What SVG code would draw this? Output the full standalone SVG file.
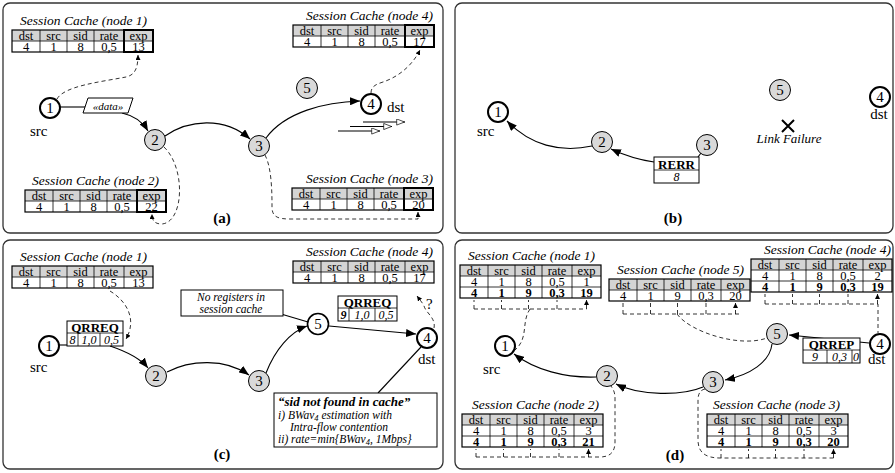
<svg xmlns="http://www.w3.org/2000/svg" xmlns:xlink="http://www.w3.org/1999/xlink" width="895" height="473" viewBox="0 0 895 473" font-family="'Liberation Serif', serif">
<style>
text{font-family:"Liberation Serif",serif;fill:#000}
.bd{fill:none;stroke:#333;stroke-width:1.3}
.ttl{font-style:italic;font-size:13.5px}
.tc{font-size:12.5px;text-anchor:middle}
.b{font-weight:bold}
.hd{fill:#d4d4d4}
.tb{fill:none;stroke:#000;stroke-width:1.2}
.tl{fill:none;stroke:#000;stroke-width:0.8}
.hx{fill:none;stroke:#000;stroke-width:2}
.nw{fill:#fff;stroke:#000;stroke-width:2}
.ng{fill:#d9d9d9;stroke:#000;stroke-width:1}
.nt{font-size:15px;text-anchor:middle}
.lb{font-size:15px}
.pl{font-size:15px;font-weight:bold;text-anchor:middle}
.cn{fill:none;stroke:#000;stroke-width:1.1}
.ds{fill:none;stroke:#000;stroke-width:0.8;stroke-dasharray:4 3}
.box{fill:#fff;stroke:#000;stroke-width:1}
.it{font-style:italic;font-size:12px}
.sm{font-style:italic;font-size:11.5px}
.bi{font-style:italic;font-weight:bold;font-size:13px}
</style>
<defs>
<marker id="ah" viewBox="0 0 10 8" refX="10" refY="4" markerWidth="10" markerHeight="8" markerUnits="userSpaceOnUse" orient="auto"><path d="M0,0 L10,4 L0,8 z"/></marker>
<marker id="sa" viewBox="0 0 6 6" refX="6" refY="3" markerWidth="5" markerHeight="5" markerUnits="userSpaceOnUse" orient="auto"><path d="M0,0 L6,3 L0,6 z"/></marker>
<marker id="oa" viewBox="0 0 10 8" refX="10" refY="4" markerWidth="10" markerHeight="7" markerUnits="userSpaceOnUse" orient="auto"><path d="M0.5,0.5 L9.5,4 L0.5,7.5 z" fill="#fff" stroke="#000" stroke-width="0.8"/></marker>
<g id="hdrrow">
<rect width="141" height="11" class="hd"/>
<text class="tc"><tspan x="14" y="9.5">dst</tspan><tspan x="41.5" y="9.5">src</tspan><tspan x="68.5" y="9.5">sid</tspan><tspan x="97" y="9.5">rate</tspan><tspan x="126.5" y="9.5">exp</tspan></text>
</g>
<g id="t2">
<use xlink:href="#hdrrow"/>
<path class="tl" d="M0,11H141M28,0V22M55,0V22M82,0V22M112,0V22"/>
<rect width="141" height="22" class="tb"/>
</g>
<g id="t3">
<use xlink:href="#hdrrow"/>
<path class="tl" d="M0,11H141M0,22H141M28,0V33M55,0V33M82,0V33M112,0V33"/>
<rect width="141" height="33" class="tb"/>
</g>
</defs>

<!-- panel borders -->
<g id="panels">
<rect x="3" y="3" width="440" height="230" rx="7" class="bd"/>
<rect x="455" y="3" width="438" height="230" rx="7" class="bd"/>
<rect x="3" y="240" width="440" height="229" rx="7" class="bd"/>
<rect x="455" y="240" width="438" height="229" rx="7" class="bd"/>
</g>

<!-- connectors -->
<g id="connectors">
<!-- (a) -->
<path class="cn" d="M60,107 H86"/>
<path class="cn" d="M122,113 Q140,117 148,131" marker-end="url(#ah)"/>
<path class="cn" d="M165,136 C188,120 224,116 250,139" marker-end="url(#ah)"/>
<path class="cn" d="M266,138 C285,112 325,102 360,101" marker-end="url(#ah)"/>
<path class="cn" d="M363,122 H405" marker-end="url(#oa)"/>
<path class="cn" d="M350,126.5 H392" marker-end="url(#oa)"/>
<path class="cn" d="M338,131 H380" marker-end="url(#oa)"/>
<path class="ds" d="M57,99 C64,86 100,82 126,77 C135,75 138,68 138,55" marker-end="url(#sa)"/>
<path class="ds" d="M164,147 C186,168 184,222 162,224 C154,224 152,220 152,214" marker-end="url(#sa)"/>
<path class="ds" d="M265,155 C272,168 272,195 272,207 C272,217 278,219 290,219 L418,219 L418,212" marker-end="url(#sa)"/>
<path class="ds" d="M371,93 C371,86 377,84 383,82 C398,77 412,66 420,50" marker-end="url(#sa)"/>
<!-- (b) -->
<path class="cn" d="M701,153 L698,157"/>
<path class="cn" d="M654,162 C640,160 626,156 611,149" marker-end="url(#ah)"/>
<path class="cn" d="M592,146 C560,153 530,145 507,121" marker-end="url(#ah)"/>
<!-- (c) -->
<path class="cn" d="M59,345 H67"/>
<path class="cn" d="M110,346 C128,352 140,358 148,368" marker-end="url(#ah)"/>
<path class="cn" d="M167,372 C190,360 225,358 249,375" marker-end="url(#ah)"/>
<path class="cn" d="M266,373 C275,350 290,332 307,326" marker-end="url(#ah)"/>
<path class="cn" d="M329,326 L416,334" marker-end="url(#ah)"/>
<path class="cn" d="M281,314 L308,322"/>
<path class="cn" d="M421,347 L378,393"/>
<path class="ds" d="M110,291 C125,300 138,318 126,339" marker-end="url(#sa)"/>
<path class="ds" d="M434,328 C436,318 426,313 424,306 C422,302 420,300 417,296" marker-end="url(#sa)"/>
<!-- (d) -->
<path class="cn" d="M869,343 L789,335" marker-end="url(#ah)"/>
<path class="cn" d="M772,344 C770,362 750,375 725,380" marker-end="url(#ah)"/>
<path class="cn" d="M703,387 C682,396 640,396 616,384" marker-end="url(#ah)"/>
<path class="cn" d="M596,377 C565,378 535,370 514,354" marker-end="url(#ah)"/>
<!-- (d) dashed: node1 cache -->
<path class="ds" d="M474,309 H586.5 M530,309 C521,322 529,338 515,350"/>
<path class="ds" d="M474,309 V300 M501.5,309 V300 M528.5,309 V300 M557,309 V300 M586.5,309 V300" marker-end="url(#sa)"/>
<!-- node5 cache -->
<path class="ds" d="M623,314 H741.5 M677,314 C690,332 740,348 767,338"/>
<path class="ds" d="M623,314 V303 M650.5,314 V303 M677.5,314 V303 M706,314 V303 M735.5,314 V303" marker-end="url(#sa)"/>
<!-- node4 cache -->
<path class="ds" d="M765,304 H878 V333"/>
<path class="ds" d="M765,304 V294 M792.5,304 V294 M819.5,304 V294 M848,304 V294 M877.5,304 V294" marker-end="url(#sa)"/>
<!-- node2 cache -->
<path class="ds" d="M476,457 H600 C610,457 615,452 615,442 V398 C615,392 613,389 611,386"/>
<path class="ds" d="M476,457 V449 M503.5,457 V449 M530.5,457 V449 M559,457 V449 M588.5,457 V449" marker-end="url(#sa)"/>
<!-- node3 cache -->
<path class="ds" d="M833.5,458 H720 C705,458 698,452 698,440 V400 C698,392 702,389 706,389"/>
<path class="ds" d="M721,458 V449 M748.5,458 V449 M775.5,458 V449 M804,458 V449 M833.5,458 V449" marker-end="url(#sa)"/>
</g>

<!-- ===== Panel (a) ===== -->
<g id="a-cache1" transform="translate(12,30)">
<text class="ttl" x="8" y="-5">Session Cache (node 1)</text>
<use xlink:href="#t2"/>
<text class="tc"><tspan x="14" y="20.5">4</tspan><tspan x="41.5" y="20.5">1</tspan><tspan x="68.5" y="20.5">8</tspan><tspan x="97" y="20.5">0,5</tspan><tspan x="126.5" y="20.5">13</tspan></text>
<rect x="112" y="0" width="29" height="22" class="hx"/>
</g>
<g id="a-cache4" transform="translate(293,25)">
<text class="ttl" x="140" y="-5" text-anchor="end">Session Cache (node 4)</text>
<use xlink:href="#t2"/>
<text class="tc"><tspan x="14" y="20.5">4</tspan><tspan x="41.5" y="20.5">1</tspan><tspan x="68.5" y="20.5">8</tspan><tspan x="97" y="20.5">0,5</tspan><tspan x="126.5" y="20.5">17</tspan></text>
<rect x="112" y="0" width="29" height="22" class="hx"/>
</g>
<g id="a-cache2" transform="translate(25,190)">
<text class="ttl" x="7" y="-5">Session Cache (node 2)</text>
<use xlink:href="#t2"/>
<text class="tc"><tspan x="14" y="20.5">4</tspan><tspan x="41.5" y="20.5">1</tspan><tspan x="68.5" y="20.5">8</tspan><tspan x="97" y="20.5">0,5</tspan><tspan x="126.5" y="20.5">22</tspan></text>
<rect x="112" y="0" width="29" height="22" class="hx"/>
</g>
<g id="a-cache3" transform="translate(292,188)">
<text class="ttl" x="141" y="-5" text-anchor="end">Session Cache (node 3)</text>
<use xlink:href="#t2"/>
<text class="tc"><tspan x="14" y="20.5">4</tspan><tspan x="41.5" y="20.5">1</tspan><tspan x="68.5" y="20.5">8</tspan><tspan x="97" y="20.5">0,5</tspan><tspan x="126.5" y="20.5">20</tspan></text>
<rect x="112" y="0" width="29" height="22" class="hx"/>
</g>
<g id="a-data">
<polygon points="88,98 133,98 128,113 83,113" class="box"/>
<text x="108" y="109.5" font-size="11" font-style="italic" text-anchor="middle">«data»</text>
</g>
<g id="a-n1"><circle cx="50" cy="108" r="10" class="nw"/><text class="nt" x="50" y="113">1</text><text class="lb" x="30" y="136">src</text></g>
<g id="a-n2"><circle cx="155" cy="140" r="10.5" class="ng"/><text class="nt" x="155" y="145">2</text></g>
<g id="a-n3"><circle cx="259" cy="146" r="10.5" class="ng"/><text class="nt" x="259" y="151">3</text></g>
<g id="a-n5"><circle cx="307" cy="88" r="10.5" class="ng"/><text class="nt" x="307" y="93">5</text></g>
<g id="a-n4"><circle cx="371" cy="104" r="10" class="nw"/><text class="nt" x="371" y="109">4</text><text class="lb" x="387" y="112">dst</text></g>
<text class="pl" x="222" y="223">(a)</text>

<!-- ===== Panel (b) ===== -->
<g id="b-n1"><circle cx="498" cy="112" r="10" class="nw"/><text class="nt" x="498" y="117">1</text><text class="lb" x="477" y="136">src</text></g>
<g id="b-n2"><circle cx="602" cy="142" r="10.5" class="ng"/><text class="nt" x="602" y="147">2</text></g>
<g id="b-n3"><circle cx="707" cy="145" r="10.5" class="ng"/><text class="nt" x="707" y="150">3</text></g>
<g id="b-n5"><circle cx="780" cy="90" r="10.5" class="ng"/><text class="nt" x="780" y="95">5</text></g>
<g id="b-n4"><circle cx="880" cy="97" r="10" class="nw"/><text class="nt" x="880" y="102">4</text><text class="nt" x="879" y="119">dst</text></g>
<g id="b-rerr">
<rect x="654" y="157" width="45" height="26" class="box"/>
<path class="tl" d="M654,170 H699"/>
<text x="676.5" y="168.5" font-size="13" font-weight="bold" text-anchor="middle">RERR</text>
<text x="676.5" y="181" class="it" text-anchor="middle">8</text>
</g>
<g id="b-failure">
<path d="M782,120 L794,132 M794,120 L782,132" stroke="#000" stroke-width="2" fill="none"/>
<text x="789" y="143" font-size="13" font-style="italic" text-anchor="middle">Link Failure</text>
</g>
<text class="pl" x="673" y="223">(b)</text>

<!-- ===== Panel (c) ===== -->
<g id="c-cache1" transform="translate(12,266)">
<text class="ttl" x="8" y="-5">Session Cache (node 1)</text>
<use xlink:href="#t2"/>
<text class="tc"><tspan x="14" y="20.5">4</tspan><tspan x="41.5" y="20.5">1</tspan><tspan x="68.5" y="20.5">8</tspan><tspan x="97" y="20.5">0,5</tspan><tspan x="126.5" y="20.5">13</tspan></text>
</g>
<g id="c-cache4" transform="translate(293,261)">
<text class="ttl" x="140" y="-5" text-anchor="end">Session Cache (node 4)</text>
<use xlink:href="#t2"/>
<text class="tc"><tspan x="14" y="20.5">4</tspan><tspan x="41.5" y="20.5">1</tspan><tspan x="68.5" y="20.5">8</tspan><tspan x="97" y="20.5">0,5</tspan><tspan x="126.5" y="20.5">17</tspan></text>
</g>
<g id="c-qrreq1">
<rect x="67" y="321" width="56" height="25" class="box"/>
<path class="tl" d="M67,333 H123 M78,333 V346 M100,333 V346"/>
<text x="95" y="331.5" font-size="13" font-weight="bold" text-anchor="middle">QRREQ</text>
<text class="it" text-anchor="middle"><tspan x="72.5" y="343.5">8</tspan><tspan x="89" y="343.5">1,0</tspan><tspan x="111.5" y="343.5">0,5</tspan></text>
</g>
<g id="c-qrreq2">
<rect x="338" y="296" width="59" height="25" class="box"/>
<path class="tl" d="M338,308 H397 M349,308 V321 M375,308 V321"/>
<text x="367.5" y="306.5" font-size="13" font-weight="bold" text-anchor="middle">QRREQ</text>
<text class="it" text-anchor="middle"><tspan x="343.5" y="318.5" font-weight="bold">9</tspan><tspan x="362" y="318.5">1,0</tspan><tspan x="386" y="318.5">0,5</tspan></text>
</g>
<g id="c-noreg">
<rect x="181" y="290" width="102" height="26" class="box"/>
<text class="sm" x="231" y="301" text-anchor="middle">No registers in</text>
<text class="sm" x="231" y="313" text-anchor="middle">session cache</text>
</g>
<g id="c-note">
<rect x="274" y="393" width="163" height="54" class="box"/>
<text class="bi" x="278" y="406">“sid not found in cache”</text>
<text class="sm" x="278" y="418.5">i) BWav<tspan font-size="8.5" dy="2.5">4</tspan><tspan dy="-2.5"> estimation with</tspan></text>
<text class="sm" x="290" y="430.5">Intra-flow contention</text>
<text class="sm" x="278" y="442.5">ii) rate=min{BWav<tspan font-size="8.5" dy="2.5">4</tspan><tspan dy="-2.5">, 1Mbps}</tspan></text>
</g>
<g id="c-n1"><circle cx="49" cy="346" r="10" class="nw"/><text class="nt" x="49" y="351">1</text><text class="lb" x="30" y="372">src</text></g>
<g id="c-n2"><circle cx="156" cy="376" r="10.5" class="ng"/><text class="nt" x="156" y="381">2</text></g>
<g id="c-n3"><circle cx="259" cy="381" r="10.5" class="ng"/><text class="nt" x="259" y="386">3</text></g>
<g id="c-n5"><circle cx="318" cy="324" r="10.5" class="nw" style="stroke-width:1.6"/><text class="nt" x="318" y="329">5</text></g>
<g id="c-n4"><circle cx="427" cy="338" r="10" class="nw"/><text class="nt" x="427" y="343">4</text><text class="lb" x="418" y="364">dst</text></g>
<text class="lb" x="426" y="309">?</text>
<text class="pl" x="222" y="459">(c)</text>

<!-- ===== Panel (d) ===== -->
<g id="d-cache1" transform="translate(460,265)">
<text class="ttl" x="8" y="-5">Session Cache (node 1)</text>
<use xlink:href="#t3"/>
<text class="tc"><tspan x="14" y="20.5">4</tspan><tspan x="41.5" y="20.5">1</tspan><tspan x="68.5" y="20.5">8</tspan><tspan x="97" y="20.5">0,5</tspan><tspan x="126.5" y="20.5">1</tspan></text>
<text class="tc b"><tspan x="14" y="31.5">4</tspan><tspan x="41.5" y="31.5">1</tspan><tspan x="68.5" y="31.5">9</tspan><tspan x="97" y="31.5">0,3</tspan><tspan x="126.5" y="31.5">19</tspan></text>
</g>
<g id="d-cache5" transform="translate(609,279)">
<text class="ttl" x="8" y="-5">Session Cache (node 5)</text>
<use xlink:href="#t2"/>
<text class="tc"><tspan x="14" y="20.5">4</tspan><tspan x="41.5" y="20.5">1</tspan><tspan x="68.5" y="20.5">9</tspan><tspan x="97" y="20.5">0,3</tspan><tspan x="126.5" y="20.5">20</tspan></text>
</g>
<g id="d-cache4" transform="translate(751,259)">
<text class="ttl" x="140" y="-5" text-anchor="end">Session Cache (node 4)</text>
<use xlink:href="#t3"/>
<text class="tc"><tspan x="14" y="20.5">4</tspan><tspan x="41.5" y="20.5">1</tspan><tspan x="68.5" y="20.5">8</tspan><tspan x="97" y="20.5">0,5</tspan><tspan x="126.5" y="20.5">2</tspan></text>
<text class="tc b"><tspan x="14" y="31.5">4</tspan><tspan x="41.5" y="31.5">1</tspan><tspan x="68.5" y="31.5">9</tspan><tspan x="97" y="31.5">0,3</tspan><tspan x="126.5" y="31.5">19</tspan></text>
</g>
<g id="d-cache2" transform="translate(462,414)">
<text class="ttl" x="10" y="-5">Session Cache (node 2)</text>
<use xlink:href="#t3"/>
<text class="tc"><tspan x="14" y="20.5">4</tspan><tspan x="41.5" y="20.5">1</tspan><tspan x="68.5" y="20.5">8</tspan><tspan x="97" y="20.5">0,5</tspan><tspan x="126.5" y="20.5">3</tspan></text>
<text class="tc b"><tspan x="14" y="31.5">4</tspan><tspan x="41.5" y="31.5">1</tspan><tspan x="68.5" y="31.5">9</tspan><tspan x="97" y="31.5">0,3</tspan><tspan x="126.5" y="31.5">21</tspan></text>
</g>
<g id="d-cache3" transform="translate(707,414)">
<text class="ttl" x="6" y="-5">Session Cache (node 3)</text>
<use xlink:href="#t3"/>
<text class="tc"><tspan x="14" y="20.5">4</tspan><tspan x="41.5" y="20.5">1</tspan><tspan x="68.5" y="20.5">8</tspan><tspan x="97" y="20.5">0,5</tspan><tspan x="126.5" y="20.5">3</tspan></text>
<text class="tc b"><tspan x="14" y="31.5">4</tspan><tspan x="41.5" y="31.5">1</tspan><tspan x="68.5" y="31.5">9</tspan><tspan x="97" y="31.5">0,3</tspan><tspan x="126.5" y="31.5">20</tspan></text>
</g>
<g id="d-qrrep">
<rect x="803" y="338" width="57" height="25" class="box"/>
<path class="tl" d="M803,350 H860 M827,350 V363 M852,350 V363"/>
<text x="831.5" y="348.5" font-size="13" font-weight="bold" text-anchor="middle">QRREP</text>
<text class="it" text-anchor="middle"><tspan x="815" y="361">9</tspan><tspan x="839.5" y="361">0,3</tspan><tspan x="856" y="361">0</tspan></text>
</g>
<g id="d-n1"><circle cx="505" cy="346" r="10" class="nw"/><text class="nt" x="505" y="351">1</text><text class="lb" x="483" y="374">src</text></g>
<g id="d-n2"><circle cx="607" cy="376" r="10.5" class="ng"/><text class="nt" x="607" y="381">2</text></g>
<g id="d-n3"><circle cx="713" cy="382" r="10.5" class="ng"/><text class="nt" x="713" y="387">3</text></g>
<g id="d-n5"><circle cx="777" cy="334" r="10.5" class="ng"/><text class="nt" x="777" y="339">5</text></g>
<g id="d-n4"><circle cx="880" cy="344" r="10" class="nw"/><text class="nt" x="880" y="349">4</text><text class="lb" x="868" y="364">dst</text></g>
<text class="pl" x="675" y="460">(d)</text>
</svg>
